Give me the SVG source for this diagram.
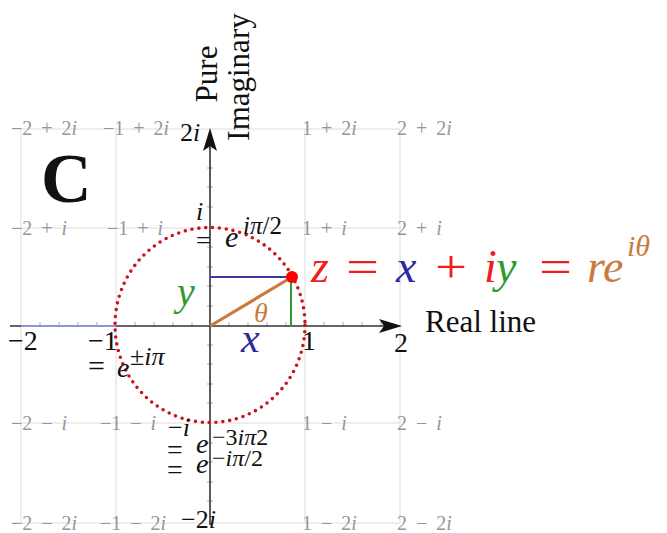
<svg xmlns="http://www.w3.org/2000/svg" width="667" height="533" viewBox="0 0 667 533">
<defs>
<style>
.grid{stroke:#dcdcdc;stroke-width:1;fill:none}
.gl{font-family:"Liberation Serif",serif;font-size:20px;fill:#969696;word-spacing:4px}
.it{font-style:italic}
.blk{font-family:"Liberation Serif",serif;fill:#111}
.tick{stroke:#aaa;stroke-width:1}
.axis{stroke:#333;stroke-width:1.6;fill:none}
.ser{font-family:"Liberation Serif",serif}
</style>
</defs>
<rect width="667" height="533" fill="#fff"/>
<g id="grid">
<path class="grid" d="M21 129V523M116 129V523M305 129V523M400 129V523M12 129H400M12 228H400M12 423H400M12 523H400"/>
</g>
<g id="grid-labels" class="gl">
<text x="11" y="135">−2 + 2<tspan class="it">i</tspan></text>
<text x="103" y="135">−1 + 2<tspan class="it">i</tspan></text>
<text x="302" y="135">1 + 2<tspan class="it">i</tspan></text>
<text x="397" y="135">2 + 2<tspan class="it">i</tspan></text>
<text x="11" y="235">−2 + <tspan class="it">i</tspan></text>
<text x="107" y="235">−1 + <tspan class="it">i</tspan></text>
<text x="302" y="235">1 + <tspan class="it">i</tspan></text>
<text x="397" y="235">2 + <tspan class="it">i</tspan></text>
<text x="11" y="430">−2 − <tspan class="it">i</tspan></text>
<text x="100" y="430">−1 − <tspan class="it">i</tspan></text>
<text x="302" y="430">1 − <tspan class="it">i</tspan></text>
<text x="397" y="430">2 − <tspan class="it">i</tspan></text>
<text x="11" y="530">−2 − 2<tspan class="it">i</tspan></text>
<text x="100" y="530">−1 − 2<tspan class="it">i</tspan></text>
<text x="302" y="530">1 − 2<tspan class="it">i</tspan></text>
<text x="397" y="530">2 − 2<tspan class="it">i</tspan></text>
</g>
<g id="ticks" class="tick">
<path d="M40 326v-4M59 326v-4M78 326v-4M97 326v-4M135 326v-4M154 326v-4M173 326v-4M192 326v-4M229 326v-4M248 326v-4M267 326v-4M286 326v-4M324 326v-4M343 326v-4M362 326v-4M381 326v-4"/>
<path d="M207 148h6M207 168h6M207 187h6M207 207h6M207 247h6M207 267h6M207 286h6M207 306h6M207 345h6M207 364h6M207 384h6M207 403h6M207 443h6M207 462h6M207 482h6M207 501h6"/>
</g>
<g id="axes">
<line class="axis" x1="10" y1="326" x2="388" y2="326"/>
<line x1="21" y1="326" x2="116" y2="326" stroke="#8a96d6" stroke-width="1.8"/>
<polygon points="402,326 379,319 384,326 379,333" fill="#111"/>
<line class="axis" x1="210" y1="525" x2="210" y2="142"/>
<polygon points="210,128 203,151 210,146 217,151" fill="#111"/>
</g>
<g id="circle">
<ellipse cx="210" cy="325" rx="95" ry="97.5" fill="none" stroke="#c8151d" stroke-width="3.6" stroke-linecap="round" stroke-dasharray="0 6.9"/>
</g>
<g id="vector">
<line x1="210" y1="277" x2="292" y2="277" stroke="#3b3ba3" stroke-width="2"/>
<line x1="291" y1="277" x2="291" y2="326" stroke="#2f9a2f" stroke-width="2"/>
<line x1="210" y1="326" x2="292" y2="277" stroke="#c97a3c" stroke-width="3.2"/>
<circle cx="292" cy="277" r="6" fill="#f00"/>
</g>
<g id="axis-labels" class="blk">
<text x="8" y="350" font-size="28">−2</text>
<text x="88" y="350" font-size="28">−1</text>
<text x="302" y="350" font-size="28">1</text>
<text x="394" y="352" font-size="28">2</text>
<text x="180" y="141" font-size="26">2<tspan class="it">i</tspan></text>
<text x="181" y="528" font-size="26">−2<tspan class="it">i</tspan></text>
<text x="196" y="220" font-size="26" class="it">i</text>
<text x="196" y="249" font-size="26">=</text>
<text x="225" y="247" font-size="30" class="it">e</text>
<text x="243" y="234" font-size="25"><tspan class="it">iπ</tspan>/2</text>
<text x="88" y="376" font-size="30">=</text>
<text x="117" y="377" font-size="28" class="it">e</text>
<text x="130" y="365" font-size="26">±<tspan class="it">iπ</tspan></text>
<text x="168" y="436" font-size="26">−<tspan class="it">i</tspan></text>
<text x="167" y="459" font-size="28">=</text>
<text x="196" y="453" font-size="28" class="it">e</text>
<text x="212" y="445" font-size="24">−3<tspan class="it">iπ</tspan>2</text>
<text x="167" y="479" font-size="28">=</text>
<text x="196" y="473" font-size="28" class="it">e</text>
<text x="212" y="466" font-size="24">−<tspan class="it">iπ</tspan>/2</text>
</g>
<g id="titles" class="blk">
<text x="41" y="202" font-size="70" font-weight="bold">C</text>
<text x="425" y="332" font-size="31">Real line</text>
<text transform="translate(217,74) rotate(-90)" font-size="31" text-anchor="middle">Pure</text>
<text transform="translate(249,77) rotate(-90)" font-size="31" text-anchor="middle">Imaginary</text>
</g>
<g id="xy-labels" class="ser it">
<text x="241" y="352" font-size="42" fill="#2b2b9e">x</text>
<text x="177" y="305" font-size="40" fill="#2f9a2f">y</text>
<text x="254" y="322" font-size="28" fill="#c97a3c">θ</text>
</g>
<g id="formula" class="ser" font-size="46">
<text x="311" y="282" fill="#f21d1d" class="it">z</text>
<text x="346" y="282" fill="#f21d1d" textLength="33" lengthAdjust="spacingAndGlyphs">=</text>
<text x="396" y="282" fill="#2b2b9e" class="it">x</text>
<text x="435" y="282" fill="#f21d1d" textLength="32" lengthAdjust="spacingAndGlyphs">+</text>
<text x="484" y="282" fill="#f21d1d" class="it">i</text>
<text x="496" y="282" fill="#2f9a2f" class="it">y</text>
<text x="539" y="282" fill="#f21d1d" textLength="33" lengthAdjust="spacingAndGlyphs">=</text>
<text x="587" y="282" fill="#c97a3c" class="it">r</text>
<text x="603" y="282" fill="#c97a3c" class="it">e</text>
<text x="627" y="256" fill="#c97a3c" class="it" font-size="30">iθ</text>
</g>
</svg>
